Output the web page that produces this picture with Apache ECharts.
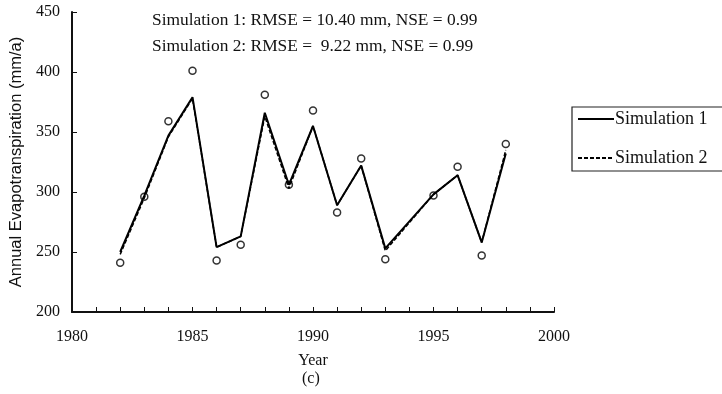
<!DOCTYPE html>
<html>
<head>
<meta charset="utf-8">
<script src="https://cdn.jsdelivr.net/npm/echarts@6/dist/echarts.min.js"></script>
<style>html,body{margin:0;padding:0;background:#fff;}#c{width:722px;height:394px;}</style>
</head>
<body>
<div id="c"></div>
<script>
var years    = [1982, 1983, 1984, 1985, 1986, 1987, 1988, 1989, 1990, 1991, 1992, 1993, 1995, 1996, 1997, 1998];
var observed = [241, 296, 359, 401, 243, 256, 381, 306, 368, 283, 328, 244, 297, 321, 247, 340];
var sim1     = [250, 297, 347, 379, 254, 263, 366, 306, 355, 289, 322, 253, 298, 314, 258, 332];
var sim2     = [248, 295, 346, 378, 254, 263, 363, 303, 355, 289, 322, 251, 298, 314, 258, 335];
var seriesNames = ['Simulation 1', 'Simulation 2'];
var statLines = ['Simulation 1: RMSE = 10.40 mm, NSE = 0.99', 'Simulation 2: RMSE =  9.22 mm, NSE = 0.99'];

function pairs(v) { return years.map(function (y, i) { return [y, v[i]]; }); }

var serif = 'Liberation Serif';
var chart = echarts.init(document.getElementById('c'));
chart.setOption({
  animation: false,
  backgroundColor: '#fff',
  title: {
    text: statLines.join('\n'),
    left: 147, top: 2,
    textStyle: { fontFamily: serif, fontSize: 17.4, fontWeight: 'normal', color: '#111', lineHeight: 26 }
  },
  legend: {
    data: seriesNames,
    orient: 'vertical',
    left: 572, top: 107,
    padding: [3, 40, 4, 5],
    itemGap: 21,
    itemWidth: 36, itemHeight: 14,
    borderColor: '#222', borderWidth: 1.2,
    itemStyle: { color: 'rgba(0,0,0,0)', borderColor: 'rgba(0,0,0,0)', borderWidth: 0 },
    textStyle: { fontFamily: serif, fontSize: 18, color: '#111', padding: [0, 0, 0, -4] }
  },
  grid: { left: 72, right: 168, top: 12, bottom: 82 },
  xAxis: {
    type: 'value', min: 1980, max: 2000, interval: 5,
    name: 'Year', nameLocation: 'middle', nameGap: 41,
    nameTextStyle: { fontFamily: serif, fontSize: 16, color: '#111' },
    axisLine: { show: true, lineStyle: { color: '#111', width: 2 } },
    axisTick: { show: true, inside: true, length: 5, lineStyle: { color: '#111', width: 1 } },
    minorTick: { show: true, splitNumber: 5, length: 5, lineStyle: { color: '#111', width: 1 } },
    splitLine: { show: false },
    axisLabel: { fontFamily: serif, fontSize: 16, color: '#111', margin: 17, formatter: function (v) { return String(v); } }
  },
  yAxis: {
    type: 'value', min: 200, max: 450, interval: 50,
    name: 'Annual Evapotranspiration (mm/a)', nameLocation: 'middle', nameGap: 46,
    nameTextStyle: { fontFamily: 'Liberation Sans', fontSize: 16.5, color: '#111' },
    axisLine: { show: true, lineStyle: { color: '#111', width: 2 } },
    axisTick: { show: true, inside: true, length: 5, lineStyle: { color: '#111', width: 1 } },
    splitLine: { show: false },
    axisLabel: { fontFamily: serif, fontSize: 16, color: '#111', margin: 12 }
  },
  graphic: [{
    type: 'text', left: 302, top: 371,
    style: { text: '(c)', font: '16px "Liberation Serif"', fill: '#111' }
  }],
  series: [
    {
      name: seriesNames[0], type: 'line', data: pairs(sim1), symbol: 'none',
      lineStyle: { color: '#000', width: 2 }, itemStyle: { color: '#000' }, z: 3
    },
    {
      name: seriesNames[1], type: 'line', data: pairs(sim2), symbol: 'none',
      lineStyle: { color: '#000', width: 1.5, type: [4, 2] }, itemStyle: { color: '#000' }, z: 3
    },
    {
      name: 'Observed', type: 'scatter', data: pairs(observed), symbol: 'circle', symbolSize: 7,
      itemStyle: { color: 'rgba(0,0,0,0)', borderColor: '#000', borderWidth: 1.5 }, z: 4
    }
  ]
});
</script>
</body>
</html>
